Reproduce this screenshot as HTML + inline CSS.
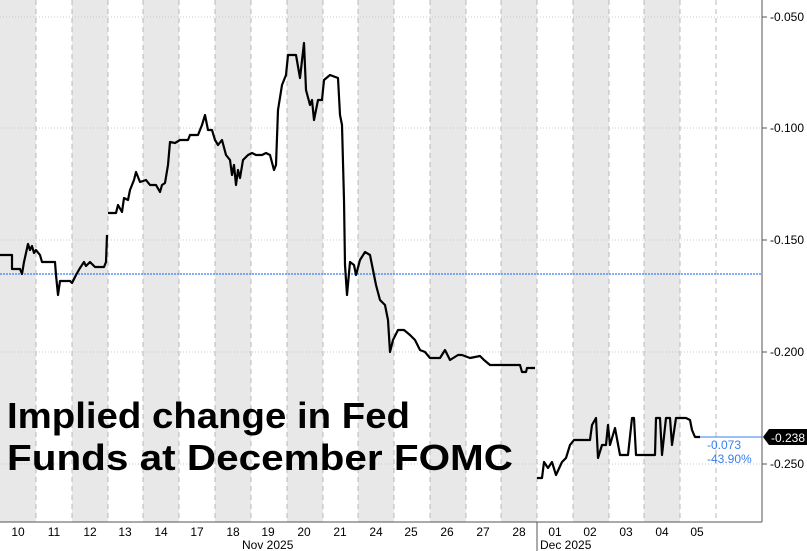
<!DOCTYPE html>
<html><head><meta charset="utf-8"><style>
html,body{margin:0;padding:0;background:#fff;}
svg{display:block;font-family:"Liberation Sans",sans-serif;}
</style></head><body>
<svg width="807" height="551" viewBox="0 0 807 551" xmlns="http://www.w3.org/2000/svg">
<rect width="807" height="551" fill="#fff"/>
<g fill="#e8e8e8">
<rect x="0" y="0" width="36" height="522"/>
<rect x="72" y="0" width="36" height="522"/>
<rect x="143" y="0" width="36" height="522"/>
<rect x="215" y="0" width="36" height="522"/>
<rect x="287" y="0" width="36" height="522"/>
<rect x="358" y="0" width="36" height="522"/>
<rect x="430" y="0" width="36" height="522"/>
<rect x="501" y="0" width="36" height="522"/>
<rect x="573" y="0" width="36" height="522"/>
<rect x="644" y="0" width="36" height="522"/>
</g>
<g stroke="#b8b8b8" stroke-dasharray="5,4" stroke-width="1">
<line x1="36" y1="0" x2="36" y2="522"/><line x1="72" y1="0" x2="72" y2="522"/><line x1="108" y1="0" x2="108" y2="522"/><line x1="143" y1="0" x2="143" y2="522"/><line x1="179" y1="0" x2="179" y2="522"/><line x1="215" y1="0" x2="215" y2="522"/><line x1="251" y1="0" x2="251" y2="522"/><line x1="287" y1="0" x2="287" y2="522"/><line x1="323" y1="0" x2="323" y2="522"/><line x1="358" y1="0" x2="358" y2="522"/><line x1="394" y1="0" x2="394" y2="522"/><line x1="430" y1="0" x2="430" y2="522"/><line x1="466" y1="0" x2="466" y2="522"/><line x1="501" y1="0" x2="501" y2="522"/><line x1="537" y1="0" x2="537" y2="522"/><line x1="573" y1="0" x2="573" y2="522"/><line x1="609" y1="0" x2="609" y2="522"/><line x1="644" y1="0" x2="644" y2="522"/><line x1="680" y1="0" x2="680" y2="522"/><line x1="716" y1="0" x2="716" y2="522"/>
</g>
<g stroke="#c8c8c8" stroke-dasharray="1,2" stroke-width="1">
<line x1="0" y1="17" x2="762" y2="17"/><line x1="0" y1="128" x2="762" y2="128"/><line x1="0" y1="240" x2="762" y2="240"/><line x1="0" y1="352" x2="762" y2="352"/><line x1="0" y1="464" x2="762" y2="464"/>
</g>
<line x1="0" y1="274" x2="762" y2="274" stroke="#3a7ff0" stroke-width="1.2" stroke-dasharray="2,1"/>
<line x1="700" y1="437" x2="762" y2="437" stroke="#3a7ff0" stroke-width="1"/>
<g fill="none" stroke="#000" stroke-width="2.2" stroke-linejoin="round">
<polyline points="0,255 12,255 12,269 20,269 22,274 24,262 28,244 30,250 32,246 34,253 36,250 40,255 42,262 55,262 56,275 58,295 60,281 70,281 72,283 76,275 80,268 84,262 86,266 90,262 95,267 104,267 106,262 107,235"/>
<polyline points="108,213 116,213 118,205 122,212 124,198 128,200 130,190 134,180 136,172 140,182 146,180 150,185 156,185 160,192 162,185 165,183 168,165 170,142 175,143 180,140 188,140 190,135 198,135 202,125 205,115 208,130 212,130 215,140 218,145 222,140 226,155 230,160 232,175 234,165 236,185 238,170 240,178 243,160 248,155 252,153 256,155 262,155 266,153 270,155 274,170 276,165 278,110 282,85 286,75 288,55 292,55 296,55 300,78 304,43 306,90 310,105 312,100 314,120 318,100 322,100 324,80 330,75 338,78 340,115 342,125 344,200 345,265 347,295 350,262 354,265 356,275 360,260 365,252 370,255 372,265 376,285 380,300 385,305 388,320 390,352 393,340 398,330 404,330 410,335 415,340 420,350 425,352 430,358 440,358 445,350 450,360 458,355 462,355 470,358 480,356 484,360 490,365 498,365 520,365 522,372 526,372 527,368 535,368"/>
<polyline points="537,478 542,478 544,462 548,468 552,462 556,475 562,462 566,458 570,445 574,440 590,440 592,425 596,418 598,458 602,445 606,445 608,425 610,445 615,428 620,455 628,455 632,418 634,418 636,455 655,455 656,418 660,418 662,455 666,418 670,418 672,445 676,418 686,418 690,420 692,430 695,437 700,437"/>
</g>
<g stroke="#555" stroke-width="1">
<line x1="762" y1="0" x2="762" y2="522"/>
<line x1="0" y1="522" x2="762" y2="522"/>
<line x1="537" y1="522" x2="537" y2="551"/>
<line x1="762" y1="17" x2="767" y2="17"/><line x1="762" y1="128" x2="767" y2="128"/><line x1="762" y1="240" x2="767" y2="240"/><line x1="762" y1="352" x2="767" y2="352"/><line x1="762" y1="464" x2="767" y2="464"/>
</g>
<g font-size="12" fill="#000">
<text x="770" y="21">-0.050</text>
<text x="770" y="132">-0.100</text>
<text x="770" y="244">-0.150</text>
<text x="770" y="356">-0.200</text>
<text x="770" y="468">-0.250</text>
</g>
<path d="M763,437 L769,429 L807,429 L807,445 L769,445 Z" fill="#000"/>
<text x="771" y="442" font-size="12" fill="#fff">-0.238</text>
<text x="707" y="449" font-size="12" fill="#3a7ff0">-0.073</text>
<text x="707" y="463" font-size="12" fill="#3a7ff0">-43.90%</text>
<g font-size="12" fill="#000" text-anchor="middle">
<text x="18" y="536">10</text><text x="54" y="536">11</text><text x="90" y="536">12</text><text x="125" y="536">13</text><text x="161" y="536">14</text><text x="197" y="536">17</text><text x="233" y="536">18</text><text x="268" y="536">19</text><text x="304" y="536">20</text><text x="340" y="536">21</text><text x="376" y="536">24</text><text x="411" y="536">25</text><text x="447" y="536">26</text><text x="483" y="536">27</text><text x="519" y="536">28</text><text x="555" y="536">01</text><text x="590" y="536">02</text><text x="626" y="536">03</text><text x="662" y="536">04</text><text x="697" y="536">05</text>
</g>
<text x="242" y="549" font-size="12" fill="#000">Nov 2025</text>
<text x="540" y="549" font-size="12" fill="#000">Dec 2025</text>
<g font-size="36" font-weight="bold" fill="#000">
<text x="7" y="428" textLength="403" lengthAdjust="spacingAndGlyphs">Implied change in Fed</text>
<text x="7" y="470" textLength="506" lengthAdjust="spacingAndGlyphs">Funds at December FOMC</text>
</g>
</svg>
</body></html>
